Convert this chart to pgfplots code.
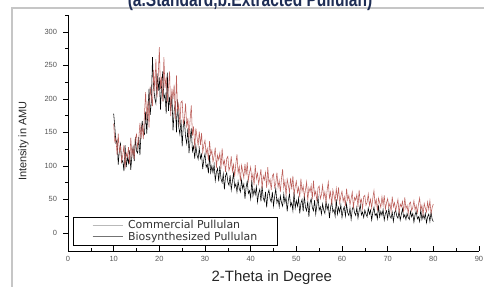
\documentclass[border=0pt]{standalone}
\usepackage{pgfplots}
\pgfplotsset{compat=1.18}
\usepackage{pgfplotstable}
\usepackage{fontspec}
\setmainfont{Liberation Sans}
\newfontfamily\dejavu{DejaVu Sans}
\newfontfamily\titlefont{Liberation Sans}[FakeStretch=0.78]
\definecolor{redser}{HTML}{BC5F5A}
\definecolor{titleblue}{HTML}{1E2D55}
\definecolor{ticklab}{HTML}{555555}

% x, Commercial Pullulan (com), Biosynthesized Pullulan (bio)
\pgfplotstableread{
x com bio
10 163 178
10.25 136 158
10.5 141 134
10.75 116 138
11 148 102
11.25 121 123
11.5 129 133
11.75 106 105
12 116 108
12.25 131 92
12.5 96 131
12.75 119 98
13 113 113
13.25 128 104
13.5 103 123
13.75 142 94
14 115 116
14.25 127 128
14.5 110 107
14.75 140 143
15 147 122
15.25 127 119
15.5 140 143
15.75 164 116
16 140 150
16.25 161 167
16.5 140 150
16.75 178 147
17 210 181
17.25 168 148
17.5 196 181
17.75 157 215
18 218 176
18.25 204 196
18.5 189 262
18.75 243 217
19 212 201
19.25 259 193
19.5 202 238
19.75 233 212
20 277 232
20.25 215 184
20.5 233 221
20.75 196 241
21 262 199
21.25 216 207
21.5 233 178
21.75 195 239
22 216 182
22.25 241 203
22.5 174 182
22.75 215 207
23 200 153
23.25 221 182
23.5 170 193
23.75 235 150
24 181 199
24.25 192 158
24.5 160 147
24.75 195 169
25 197 129
25.25 163 160
25.5 171 167
25.75 193 143
26 157 133
26.25 171 156
26.5 142 119
26.75 170 140
27 190 156
27.25 145 122
27.5 159 129
27.75 126 111
28 156 130
28.25 143 116
28.5 130 110
28.75 151 126
29 131 111
29.25 149 117
29.5 120 95
29.75 131 110
30 138 118
30.25 118 98
30.5 126 102
30.75 108 89
31 137 116
31.25 116 90
31.5 123 100
31.75 106 90
32 115 102
32.25 127 78
32.5 97 91
32.75 116 96
33 109 77
33.25 119 100
33.5 96 81
33.75 126 75
34 102 88
34.25 108 65
34.5 91 85
34.75 111 90
35 114 76
35.25 93 71
35.5 99 86
35.75 114 64
36 92 77
36.25 102 89
36.5 84 68
36.75 103 73
37 117 61
37.25 89 77
37.5 99 66
37.75 77 61
38 101 79
38.25 92 66
38.5 82 73
38.75 103 51
39 86 68
39.25 105 77
39.5 78 59
39.75 90 63
40 98 51
40.25 79 79
40.5 88 55
40.75 71 65
41 101 57
41.25 81 69
41.5 89 46
41.75 73 59
42 83 65
42.25 95 47
42.5 66 70
42.75 85 52
43 79 47
43.25 90 61
43.5 67 38
43.75 98 58
44 74 64
44.25 80 51
44.5 64 46
44.75 85 61
45 88 40
45.25 68 54
45.5 74 66
45.75 90 45
46 68 51
46.25 78 39
46.5 61 55
46.75 81 45
47 95 40
47.25 67 58
47.5 77 45
47.75 55 53
48 80 32
48.25 71 49
48.5 61 58
48.75 82 40
49 65 45
49.25 85 33
49.5 57 61
49.75 69 37
50 77 48
50.25 60 40
50.5 68 52
50.75 53 29
51 81 44
51.25 62 50
51.5 70 32
51.75 54 56
52 64 38
52.25 76 33
52.5 48 47
52.75 67 24
53 61 45
53.25 71 51
53.5 50 38
53.75 78 33
54 56 49
54.25 62 28
54.5 47 42
54.75 67 54
55 70 34
55.25 51 39
55.5 57 28
55.75 71 43
56 52 34
56.25 61 29
56.5 46 47
56.75 64 35
57 76 42
57.25 52 22
57.5 61 38
57.75 42 47
58 64 31
58.25 56 35
58.5 47 25
58.75 66 50
59 51 28
59.25 68 38
59.5 44 31
59.75 55 42
60 62 23
60.25 47 34
60.5 54 39
60.75 40 25
61 66 43
61.25 49 30
61.5 56 26
61.75 42 37
62 51 20
62.25 61 35
62.5 37 40
62.75 53 30
63 49 26
63.25 57 38
63.5 39 22
63.75 64 33
64 45 42
64.25 50 27
64.5 36 31
64.75 54 23
65 56 34
65.25 41 28
65.5 46 24
65.75 58 37
66 41 28
66.25 50 34
66.5 37 19
66.75 52 31
67 63 38
67.25 42 26
67.5 50 29
67.75 33 21
68 52 41
68.25 45 24
68.5 38 32
68.75 54 26
69 41 35
69.25 56 19
69.5 35 29
69.75 45 33
70 51 21
70.25 38 36
70.5 44 25
70.75 32 22
71 54 31
71.25 39 17
71.5 45 30
71.75 33 34
72 41 25
72.25 50 22
72.5 29 32
72.75 43 19
73 39 28
73.25 47 36
73.5 31 23
73.75 53 27
74 36 20
74.25 41 29
74.5 29 23
74.75 44 20
75 46 32
75.25 33 24
75.5 38 29
75.75 48 16
76 34 27
76.25 41 32
76.5 30 21
76.75 43 24
77 52 17
77.25 34 35
77.5 41 20
77.75 27 27
78 44 21
78.25 37 29
78.5 31 15
78.75 46 24
79 35 28
79.25 48 17
79.5 29 31
79.75 38 20
80 43 17
}\xrd

\begin{document}
\begin{tikzpicture}
\begin{axis}[
  name=ax,
  scale only axis,
  width=411bp, height=236bp,
  xmin=0, xmax=90, ymin=-27, ymax=325,
  axis x line*=bottom, axis y line*=left,
  axis line style={black, line width=0.6pt},
  xtick={0,10,...,90}, ytick={0,50,...,300},
  minor xtick={5,15,...,85}, minor ytick={25,75,...,325},
  x tick style={black, line width=0.5pt},
  y tick style={black, line width=0.5pt},
  xtick align=inside, ytick align=outside,
  major tick length=4.5bp, minor tick length=2.5bp,
  /pgf/number format/assume math mode=true,
  tick label style={font=\fontsize{7.5}{8}\selectfont, text=ticklab},
  xticklabel style={yshift=-2bp},
  yticklabel style={xshift=-3bp},
  xlabel={2-Theta in Degree},
  xlabel style={font=\fontsize{15}{17}\selectfont, text=black!85, at={(axis description cs:0.496,0)}, anchor=center, yshift=-27bp},
  ylabel={Intensity in AMU},
  ylabel style={font=\fontsize{11}{13}\selectfont, text=black!85, at={(axis description cs:-0.108,0.466)}, anchor=center},
  legend style={at={(rel axis cs:0.012,0.025)}, anchor=south west, draw=black, line width=0.6pt,
     font=\dejavu\fontsize{11}{12.5}\selectfont, text=black!80, inner xsep=19bp, inner ysep=2bp,
     nodes={inner sep=1.2bp}, row sep=-0.8bp,
     /tikz/every odd column/.append style={column sep=4bp}},
  legend cell align=left,
  legend image code/.code={\draw[#1, line width=0.6pt] (0bp,0bp) -- (30bp,0bp);},
]
\addplot[black, line width=0.55pt, forget plot] table[x=x, y=bio] {\xrd};
\addplot[redser, line width=0.55pt, forget plot] table[x=x, y=com] {\xrd};
\addlegendimage{gray!55}
\addlegendentry{Commercial Pullulan}
\addlegendimage{gray!90!black}
\addlegendentry{Biosynthesized Pullulan}
\end{axis}
\draw[gray!45, line width=1.2pt] ([xshift=-56bp,yshift=-60bp]ax.south west) -- ([xshift=-56bp,yshift=7bp]ax.north west) -- ([xshift=30bp,yshift=7bp]ax.north east);
\node[anchor=base, font=\titlefont\bfseries\fontsize{20}{22}\selectfont, text=titleblue, inner sep=0pt] at ([xshift=182bp,yshift=8.5bp]ax.north west) {(a.Standard,b.Extracted Pullulan)};
\pgfresetboundingbox
\path[use as bounding box] ([xshift=-68bp,yshift=-36bp]ax.south west) rectangle ([xshift=5bp,yshift=15bp]ax.north east);
\end{tikzpicture}
\end{document}
